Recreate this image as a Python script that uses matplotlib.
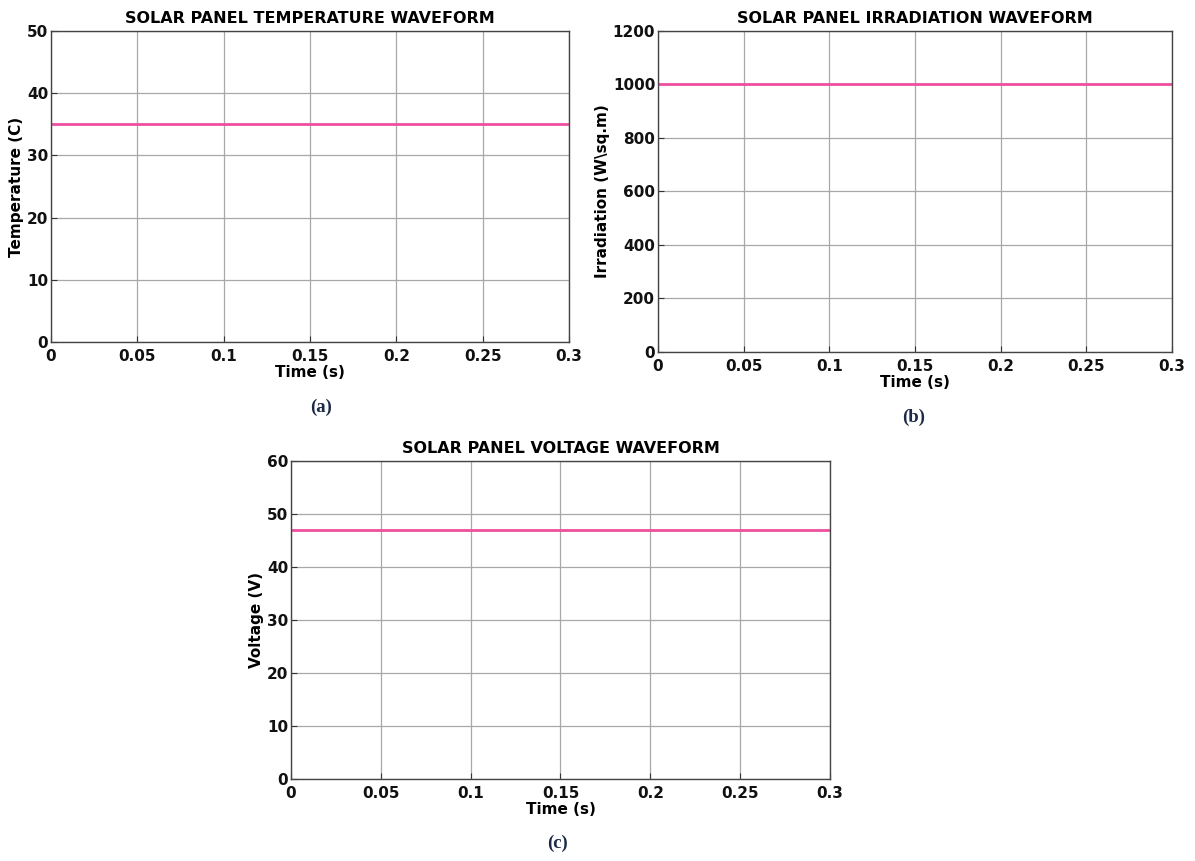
import matplotlib
matplotlib.use("Agg")
import matplotlib.pyplot as plt

# time axis and constant waveforms
time_s = [0.0, 0.3]
temperature_c = [35, 35]
irradiation = [1000, 1000]
voltage_v = [47, 47]

x_ticks = [0, 0.05, 0.1, 0.15, 0.2, 0.25, 0.3]
x_tick_labels = ["0", "0.05", "0.1", "0.15", "0.2", "0.25", "0.3"]

panels = [
    dict(rect=[0.0427, 0.6028, 0.4335, 0.3612], y=temperature_c,
         ylim=(0, 50), yticks=[0, 10, 20, 30, 40, 50],
         title="SOLAR PANEL TEMPERATURE WAVEFORM", ylabel="Temperature (C)",
         tag="(a)", tag_xy=(321 / 1195, 1 - 407 / 861)),
    dict(rect=[0.5506, 0.5912, 0.4301, 0.3728], y=irradiation,
         ylim=(0, 1200), yticks=[0, 200, 400, 600, 800, 1000, 1200],
         title="SOLAR PANEL IRRADIATION WAVEFORM", ylabel="Irradiation (W\\sq.m)",
         tag="(b)", tag_xy=(914 / 1195, 1 - 417 / 861)),
    dict(rect=[0.2435, 0.0952, 0.4510, 0.3693], y=voltage_v,
         ylim=(0, 60), yticks=[0, 10, 20, 30, 40, 50, 60],
         title="SOLAR PANEL VOLTAGE WAVEFORM", ylabel="Voltage (V)",
         tag="(c)", tag_xy=(557 / 1195, 1 - 843 / 861)),
]

LINE = "#ee4f9f"
FS = 11

fig = plt.figure(figsize=(11.95, 8.61), dpi=100)

for p in panels:
    ax = fig.add_axes(p["rect"])
    ax.plot(time_s, p["y"], color=LINE, linewidth=2)
    ax.set_xlim(0, 0.3)
    ax.set_ylim(*p["ylim"])
    ax.set_xticks(x_ticks)
    ax.set_xticklabels(x_tick_labels)
    ax.set_yticks(p["yticks"])
    ax.grid(True, color="#a8a8a8", linewidth=0.9)
    ax.tick_params(direction="in", length=4, width=0.8, colors="#333333",
                   labelcolor="#111111", labelsize=FS, top=False, right=False)
    ax.tick_params(axis="x", pad=5)
    ax.tick_params(axis="y", pad=2)
    for lbl in ax.get_xticklabels() + ax.get_yticklabels():
        lbl.set_fontweight("bold")
    for s in ax.spines.values():
        s.set_color("#444444")
        s.set_linewidth(1.0)
    ax.set_title(p["title"], fontsize=11.5, fontweight="bold", pad=6)
    ax.set_xlabel("Time (s)", fontsize=FS, fontweight="bold", labelpad=1)
    ax.set_ylabel(p["ylabel"], fontsize=FS, fontweight="bold", labelpad=2)
    fig.text(p["tag_xy"][0], p["tag_xy"][1], p["tag"], ha="center", va="center",
             fontsize=13.5, fontweight="bold", family="Liberation Serif",
             color="#1c2a48")

fig.savefig("out.png", dpi=100)
